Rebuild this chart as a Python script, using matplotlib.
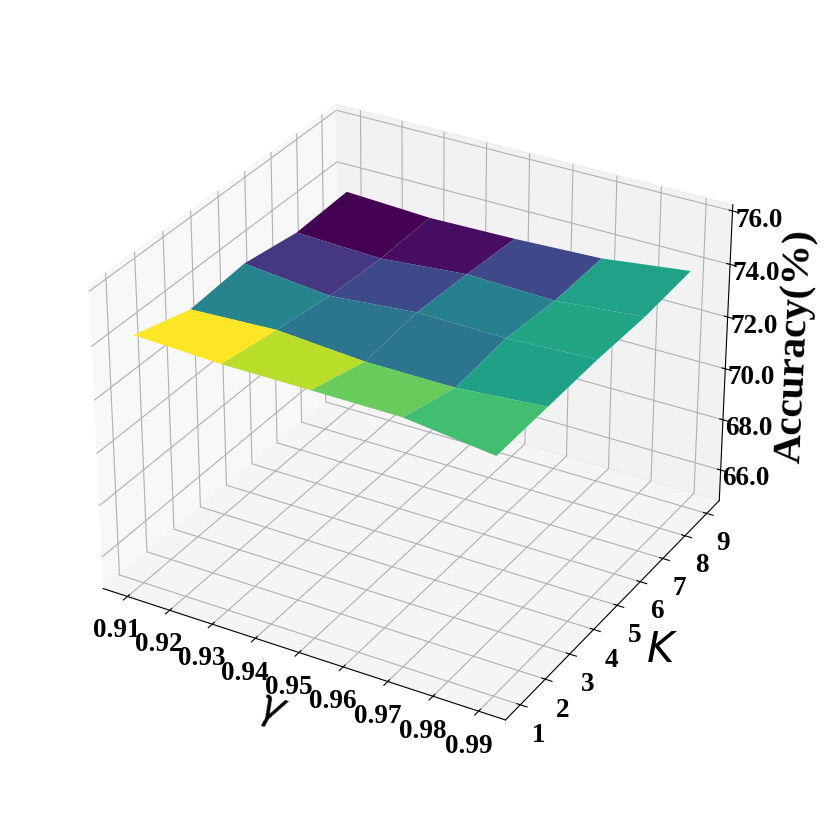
import numpy as np
import matplotlib
matplotlib.use('Agg')
import matplotlib.pyplot as plt

plt.rcParams['font.family'] = ['Liberation Serif', 'DejaVu Serif']
plt.rcParams['mathtext.fontset'] = 'dejavusans'

gamma = [0.91, 0.93, 0.95, 0.97, 0.99]
k = [1, 3, 5, 7, 9]
# accuracy, rows = K, columns = gamma
acc = np.array([
    [74.22, 74.09, 74.09, 74.08, 73.68],
    [73.58, 73.73, 73.49, 73.48, 73.75],
    [73.75, 73.42, 73.71, 73.67, 73.82],
    [73.41, 73.29, 73.58, 73.48, 73.79],
    [73.50, 73.34, 73.40, 73.53, 73.94],
])
gamma_ticks = [0.91, 0.92, 0.93, 0.94, 0.95, 0.96, 0.97, 0.98, 0.99]
k_ticks = [1, 2, 3, 4, 5, 6, 7, 8, 9]
z_ticks = [66.0, 68.0, 70.0, 72.0, 74.0, 76.0]

fig = plt.figure(figsize=(8.31, 8.14), dpi=100)
ax = fig.add_axes([0.05, 0.06, 0.88, 0.88], projection='3d')
X, Y = np.meshgrid(gamma, k)
ax.plot_surface(X, Y, acc, cmap='viridis', linewidth=0, antialiased=True)
ax.set_zlim(64.77, 76.23)
ax.set_xticks(gamma_ticks)
ax.set_yticks(k_ticks)
ax.set_zticks(z_ticks)
ax.set_xticklabels([f'{v:.2f}' for v in gamma_ticks], fontsize=19.5, fontweight='bold')
ax.set_yticklabels([str(v) for v in k_ticks], fontsize=19.5, fontweight='bold')
ax.set_zticklabels([f'{v:.1f}' for v in z_ticks], fontsize=19.5, fontweight='bold')
ax.set_xlabel(r'$\gamma$', fontsize=30, labelpad=9)
ax.set_ylabel(r'$K$', fontsize=30, labelpad=9)
ax.set_zlabel('Accuracy(%)', fontsize=29.5, fontweight='bold', labelpad=10)

fig.savefig('out.png', dpi=100)
